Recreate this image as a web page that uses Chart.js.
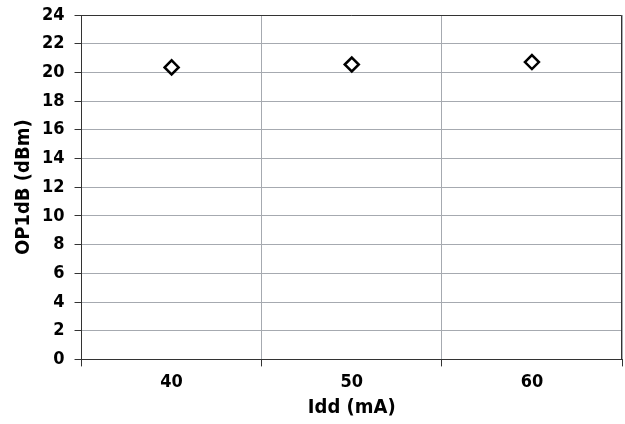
<!DOCTYPE html>
<html>
<head>
<meta charset="utf-8">
<script src="https://cdn.jsdelivr.net/npm/chart.js@4/dist/chart.umd.min.js"></script>
<style>
  html,body{margin:0;padding:0;background:#fff;}
  #wrap{width:625px;height:424px;}
</style>
</head>
<body>
<div id="wrap"><canvas id="grafico" width="625" height="424"></canvas></div>
<script>
const categorias = ["40", "50", "60"];
const op1db = [20.35, 20.55, 20.72];
const ticksY = [0, 2, 4, 6, 8, 10, 12, 14, 16, 18, 20, 22, 24];

const fonte = "'DejaVu Sans Condensed', 'Liberation Sans Narrow', sans-serif";

const moldura = {
  id: "moldura",
  afterDraw(c){
    const a = c.chartArea, g = c.ctx;
    g.save();
    g.strokeStyle = "#333";
    g.lineWidth = 1;
    g.beginPath();
    g.moveTo(a.left, a.top + 0.5);
    g.lineTo(a.right - 0.5, a.top + 0.5);
    g.lineTo(a.right - 0.5, a.bottom);
    g.stroke();
    g.restore();
  }
};

new Chart(document.getElementById("grafico"), {
  type: "line",
  data: {
    labels: categorias,
    datasets: [{
      data: op1db,
      showLine: false,
      pointStyle: "rectRot",
      pointRadius: 7,
      pointBorderWidth: 2.5,
      pointBorderColor: "#000",
      pointBackgroundColor: "#fff"
    }]
  },
  options: {
    responsive: false,
    animation: false,
    layout: { autoPadding: false, padding: { top: 15, right: 3, left: 8, bottom: 2 } },
    plugins: { legend: { display: false }, tooltip: { enabled: false } },
    scales: {
      x: {
        offset: true,
        afterFit: ax => { ax.paddingRight = 0; ax.paddingLeft = 0; },
        grid: { offset: true, color: "#a6aab0", tickColor: "#333", tickLength: 7 },
        border: { color: "#333" },
        ticks: { color: "#000", font: { family: fonte, size: 18, weight: "bold" }, padding: 5 },
        title: { display: true, text: "Idd (mA)", color: "#000", font: { family: fonte, size: 20, weight: "bold", lineHeight: 1 }, padding: { top: 0 } }
      },
      y: {
        min: 0, max: 24,
        afterBuildTicks: ax => { ax.ticks = ticksY.map(v => ({ value: v })); },
        afterFit: ax => { ax.paddingTop = 0; },
        grid: { color: "#a6aab0", tickColor: "#333", tickLength: 7 },
        border: { color: "#333" },
        ticks: { color: "#000", font: { family: fonte, size: 18, weight: "bold", lineHeight: 1 }, padding: 10 },
        title: { display: true, text: "OP1dB (dBm)", color: "#000", font: { family: fonte, size: 20, weight: "bold" }, padding: { top: 4, bottom: -4 } }
      }
    }
  },
  plugins: [moldura]
});
</script>
</body>
</html>
